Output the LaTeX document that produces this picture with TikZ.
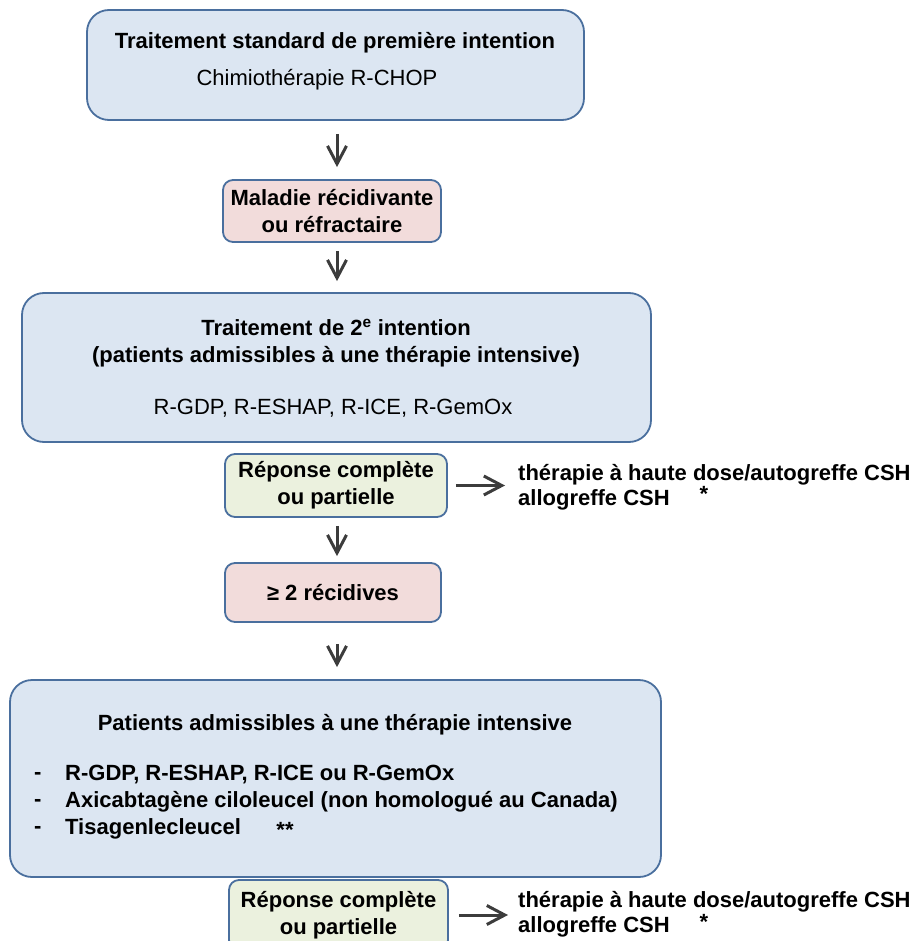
\documentclass[tikz,border=0pt]{standalone}
\usepackage{fontspec}
\setmainfont{Liberation Sans}
\usetikzlibrary{arrows.meta}
\definecolor{cadre}{RGB}{74,111,158}
\definecolor{bleufond}{RGB}{220,230,242}
\definecolor{rosefond}{RGB}{242,220,219}
\definecolor{vertfond}{RGB}{235,241,222}
\definecolor{gris}{RGB}{60,60,60}

\begin{document}
\begin{tikzpicture}[x=1pt, y=-1pt,
    texte/.style={font=\fontsize{22}{27}\selectfont, inner sep=0pt},
    gras/.style={font=\fontsize{22}{27}\selectfont\bfseries, inner sep=0pt},
    bloc/.style={draw=cadre, line width=1.8pt, rounded corners=#1, inner sep=0pt},
    bleu/.style={bloc=22pt, fill=bleufond},
    rose/.style={bloc=10pt, fill=rosefond, gras, align=center},
    vert/.style={bloc=10pt, fill=vertfond, gras, align=center},
    fleche/.style={draw=gris, line width=3pt, -{Straight Barb[length=18pt,width=19pt]}}]
    \useasboundingbox (0,0) rectangle (920,941);
    \coordinate (axe) at (337,0);

    % boites
    \node[bleu, minimum width=497pt, minimum height=110pt] (premiere) at (335.5,65) {};
    \node[rose, minimum width=218pt, minimum height=62pt] (rechute) at (332,211)
        {Maladie récidivante\\ou réfractaire};
    \node[bleu, minimum width=629pt, minimum height=149pt] (deuxieme) at (336.5,367.5) {};
    \node[vert, minimum width=222pt, minimum height=63pt] (reponse1) at (336,485.5)
        {Réponse complète\\ou partielle};
    \node[rose, minimum width=216pt, minimum height=59pt] (recidives) at (333,592.5)
        {≥ 2 récidives};
    \node[bleu, minimum width=651pt, minimum height=197pt] (intensive) at (335.5,778.5) {};
    \node[vert, minimum width=219pt, minimum height=70pt] (reponse2) at (338.5,915)
        {Réponse complète\\ou partielle};

    % textes des grandes boites
    \node[gras] (titre1) at (335,43) {Traitement standard de première intention};
    \node[texte] (chimio) at (317,80) {Chimiothérapie R-CHOP};
    \node[gras, align=center] (titre2) at (336,343)
        {Traitement de 2\textsuperscript{e} intention\\(patients admissibles à une thérapie intensive)};
    \node[texte] (schemas) at (333,408) {R-GDP, R-ESHAP, R-ICE, R-GemOx};
    \node[gras] (titre3) at (335,725) {Patients admissibles à une thérapie intensive};
    \node[gras, align=left, anchor=west] (tirets) at (34,802.5) {-\\-\\-};
    \node[gras, align=left, anchor=west] (liste) at (65,802.5)
        {R-GDP, R-ESHAP, R-ICE ou R-GemOx\\Axicabtagène ciloleucel (non homologué au Canada)\\Tisagenlecleucel};
    \node[gras, anchor=base] (etoiles) at (285,837) {**};

    % greffes
    \node[gras, align=left, anchor=west, font=\fontsize{22}{25}\selectfont\bfseries] (greffe1) at (518,487.5)
        {thérapie à haute dose/autogreffe CSH\\allogreffe CSH};
    \node[gras, anchor=base] (etoile1) at (704,501) {*};
    \node[gras, align=left, anchor=west, font=\fontsize{22}{25}\selectfont\bfseries] (greffe2) at (518,914)
        {thérapie à haute dose/autogreffe CSH\\allogreffe CSH};
    \node[gras, anchor=base] (etoile2) at (704,929) {*};

    % fleches
    \draw[fleche, shorten <=13pt, shorten >=12pt] (premiere.south -| axe) -- (rechute.north -| axe);
    \draw[fleche, shorten <=8pt, shorten >=11pt] (rechute.south -| axe) -- (deuxieme.north -| axe);
    \draw[fleche, shorten <=8pt, shorten >=6pt] (reponse1.south -| axe) -- (recidives.north -| axe);
    \draw[fleche, shorten <=21pt, shorten >=12pt] (recidives.south -| axe) -- (intensive.north -| axe);
    \draw[fleche, shorten <=8pt, shorten >=13pt] (reponse1.east) -- (reponse1.east -| greffe1.west);
    \draw[fleche, shorten <=10pt, shorten >=10pt] (reponse2.east) -- (reponse2.east -| greffe2.west);
\end{tikzpicture}
\end{document}
